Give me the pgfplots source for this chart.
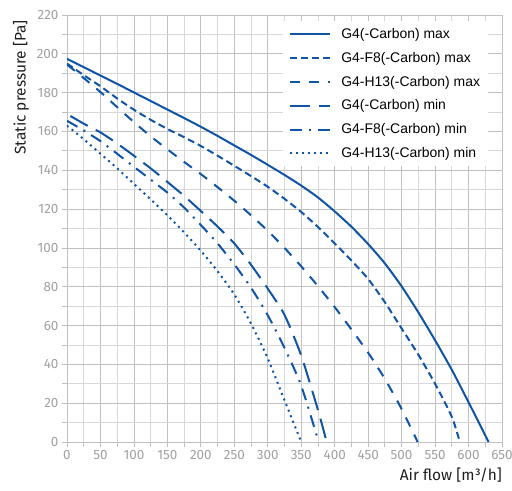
\documentclass[border=0pt]{standalone}
\usepackage{fontspec}
\setmainfont{Fira Sans}
\newfontfamily\legendfont{Liberation Sans}
\usepackage{pgfplots}
\pgfplotsset{compat=1.18}
\definecolor{cblue}{RGB}{16,84,166}
\definecolor{gridmaj}{RGB}{192,192,192}
\definecolor{gridmin}{RGB}{216,216,216}
\definecolor{ticklab}{RGB}{160,160,160}
\begin{document}
\begin{tikzpicture}
\path[use as bounding box] (-67bp,-49bp) rectangle (445bp,442bp);
\begin{axis}[
  scale only axis, width=435bp, height=427bp,
  xmin=0, xmax=650, ymin=0, ymax=220,
  xtick distance=50, ytick distance=20,
  minor x tick num=1, minor y tick num=1,
  grid=both,
  major grid style={gridmaj, line width=0.8bp},
  minor grid style={gridmin, line width=0.8bp},
  axis line style={gridmaj, line width=0.8bp},
  tick align=outside, tick pos=left,
  major tick length=5bp, minor tick length=5bp,
  every tick/.style={gridmaj, line width=0.8bp},
  tick label style={font=\fontsize{13.5}{16}\selectfont, text=ticklab},
  /pgf/number format/assume math mode=true,
  label style={font=\fontsize{15.5}{18}\selectfont, text=black!88},
  xlabel={Air flow [m³/h]},
  ylabel={Static pressure [Pa]},
  xlabel style={at={(rel axis cs:1,0)}, anchor=north east, inner sep=0pt, yshift=-26bp},
  ylabel style={at={(rel axis cs:0,1)}, anchor=south east, inner sep=0pt, yshift=38bp, xshift=-5bp},
  legend style={at={(0.497,0.986)}, anchor=north west, draw=none, fill=white,
    font=\legendfont\fontsize{14}{17}\selectfont, row sep=8.3bp,
    inner xsep=6bp, inner ysep=5bp,
    /tikz/every odd column/.append style={column sep=8bp}},
  legend cell align=left,
  legend image code/.code={\draw[#1] (0bp,0bp) -- (40bp,0bp);},
  myline/.style={cblue, line width=2bp, smooth, tension=0.4, no markers},
]
\addplot[myline, solid] coordinates {(0,197.4) (25,193.1) (50,188.8) (75,184.5) (100,180.1) (125,175.7) (150,171.3) (175,166.9) (200,162.4) (225,157.7) (250,152.8) (275,147.9) (300,142.8) (325,137.6) (350,132.1) (375,126) (400,118.8) (425,110.9) (450,102) (475,92) (500,80.2) (525,66.8) (550,52.4) (575,37.2) (600,20.5) (615,10.3) (630,0)};
\addlegendentry{G4(-Carbon) max}
\addplot[myline, dash pattern=on 7bp off 4bp] coordinates {(0,195) (25,189) (50,183.3) (75,177) (100,171.2) (125,166) (150,161.3) (175,157) (200,152.5) (225,147.5) (250,142.3) (275,137) (300,131.5) (325,125.3) (350,118.5) (375,110.8) (400,102.3) (425,93.5) (450,84) (475,72) (500,58.5) (525,45) (550,30) (575,13) (587,0)};
\addlegendentry{G4-F8(-Carbon) max}
\addplot[myline, dash pattern=on 10bp off 9bp] coordinates {(0,194.5) (25,187.5) (50,180.3) (75,172.5) (100,164.8) (125,157.5) (150,150.8) (175,144.3) (200,138) (225,131.3) (250,124.3) (275,116.8) (300,108.8) (325,100) (350,90.5) (375,80.3) (400,69.5) (425,58) (450,46) (475,32.5) (500,17) (524,0)};
\addlegendentry{G4-H13(-Carbon) max}
\addplot[myline, dash pattern=on 20bp off 9bp] coordinates {(5,168) (25,164) (50,159.5) (75,153.8) (100,147.5) (125,141) (150,134) (175,126.8) (200,119) (225,111) (250,102.3) (275,91.3) (300,79) (325,65.5) (350,44.5) (375,16.5) (388,0)};
\addlegendentry{G4(-Carbon) min}
\addplot[myline, dash pattern=on 12bp off 7bp on 2bp off 7bp] coordinates {(0,165.5) (25,160.5) (50,155) (75,148.5) (100,141.8) (125,135.2) (150,128.5) (175,120.8) (200,111.8) (225,102.3) (250,91.5) (275,79.5) (300,65.3) (325,48.5) (350,29) (376,0)};
\addlegendentry{G4-F8(-Carbon) min}
\addplot[myline, dash pattern=on 2bp off 4bp] coordinates {(0,163) (25,156) (50,148.5) (75,141) (100,133) (125,125) (150,116.8) (175,108) (200,98.5) (225,88) (250,76) (275,61) (300,43) (325,21.5) (350,0)};
\addlegendentry{G4-H13(-Carbon) min}
\end{axis}
\end{tikzpicture}
\end{document}
